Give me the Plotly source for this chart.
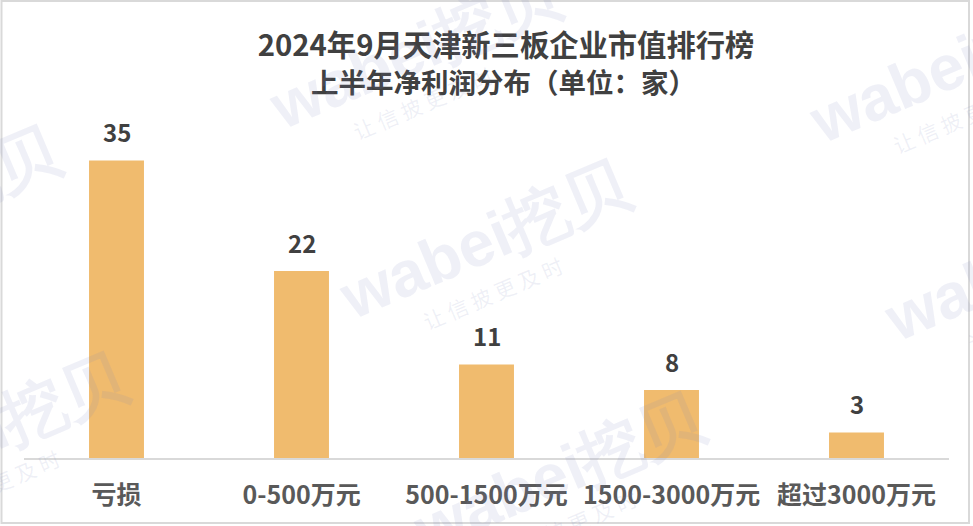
import plotly.graph_objects as go

categories = ["亏损", "0-500万元", "500-1500万元", "1500-3000万元", "超过3000万元"]
values = [35, 22, 11, 8, 3]
title_line1 = "2024年9月天津新三板企业市值排行榜"
title_line2 = "上半年净利润分布（单位：家）"
wm_main = "wabei挖贝"
wm_sub = "让 信 披 更 及 时"

W, H = 973, 526
ML, MR, MT, MB = 24, 24, 118, 68
PW = W - ML - MR
PH = H - MT - MB
YMAX = 40

def px(xp):
    return (xp - ML) / PW

def py(yp):
    return (H - MB - yp) / PH

CJK = "Noto Sans CJK SC, Microsoft YaHei, sans-serif"

fig = go.Figure(go.Bar(
    x=categories, y=values,
    marker=dict(color="#F0BB6E", line=dict(width=0)),
    width=0.297,
    hoverinfo="skip",
))

annotations = []
for c, v in zip(categories, values):
    annotations.append(dict(
        x=c, y=v, xref="x", yref="y", text=f"<b>{v}</b>", showarrow=False,
        yanchor="middle", yshift=29,
        font=dict(family=CJK, size=24, color="#404040"),
    ))

# second title line
annotations.append(dict(
    x=px(503), y=py(81), xref="paper", yref="paper", text=f"<b>{title_line2}</b>",
    showarrow=False, xanchor="center", yanchor="middle",
    font=dict(family=CJK, size=27.5, color="#404040"),
))

# watermarks
wm_centers = [(485, 240), (415, 50), (955, 64), (1030, 262), (559, 473), (-18, 433), (-85, 206)]
for cx, cy in wm_centers:
    annotations.append(dict(
        x=px(cx), y=py(cy), xref="paper", yref="paper", text="<b>" + wm_main + "</b>",
        showarrow=False, textangle=-23, xanchor="center", yanchor="middle",
        font=dict(family="Liberation Sans, Arial, sans-serif", size=64, color="rgba(120,130,190,0.12)"),
    ))
    annotations.append(dict(
        x=px(cx + 8), y=py(cy + 53), xref="paper", yref="paper", text=wm_sub,
        showarrow=False, textangle=-23, xanchor="center", yanchor="middle",
        font=dict(family=CJK, size=21, color="rgba(120,130,190,0.12)"),
    ))

fig.update_layout(
    width=W, height=H,
    margin=dict(l=ML, r=MR, t=MT, b=MB, pad=0, autoexpand=False),
    paper_bgcolor="white", plot_bgcolor="white",
    title=dict(
        text=f"<b>{title_line1}</b>",
        x=507 / W, xanchor="center", xref="paper",
        y=1 - 46 / H, yanchor="middle", yref="container",
        font=dict(family=CJK, size=29.3, color="#404040"),
        automargin=False,
    ),
    showlegend=False,
    annotations=annotations,
    shapes=[dict(
        type="rect", xref="paper", yref="paper",
        x0=px(1.5), x1=px(969), y0=py(523), y1=py(1),
        line=dict(color="#D9D9D9", width=2), fillcolor="rgba(0,0,0,0)", layer="above",
    )],
    xaxis=dict(
        showline=True, linecolor="#D9D9D9", linewidth=2,
        showgrid=False, ticks="", ticklabelstandoff=14, automargin=False,
        tickfont=dict(family=CJK, size=25, color="#595959", weight="bold"),
        zeroline=False, fixedrange=True,
    ),
    yaxis=dict(
        range=[0, YMAX], visible=False, showgrid=False, zeroline=False, fixedrange=True,
        automargin=False,
    ),
)

fig.write_html(
    "out.html",
    config={"displayModeBar": False},
    post_script="document.body.style.margin='0';document.body.style.padding='0';",
)
